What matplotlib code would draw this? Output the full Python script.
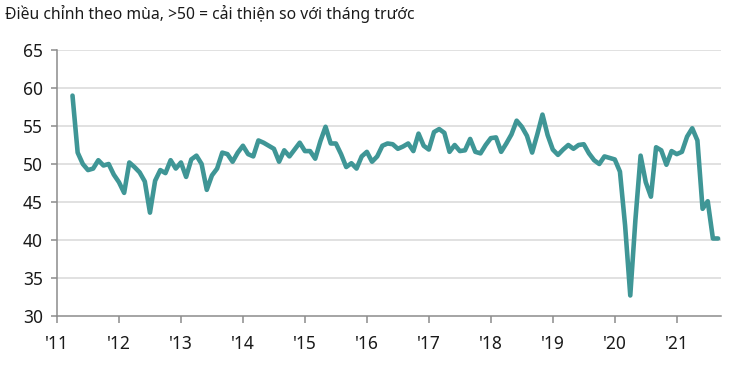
import numpy as np
import matplotlib.pyplot as plt

plt.rcParams['font.family'] = ['Noto Sans', 'DejaVu Sans']

# PMI, monthly, Apr 2011 - Sep 2021
pmi_2011 = [59.0, 51.5, 50.0, 49.2, 49.4, 50.5, 49.8, 50.0, 48.6]
pmi_2012 = [47.6, 46.2, 50.2, 49.6, 48.9, 47.7, 43.6, 47.8, 49.2, 48.8, 50.5, 49.4]
pmi_2013 = [50.2, 48.3, 50.6, 51.1, 50.0, 46.6, 48.5, 49.4, 51.5, 51.3, 50.3, 51.5]
pmi_2014 = [52.4, 51.3, 51.0, 53.1, 52.8, 52.4, 52.0, 50.3, 51.8, 51.0, 51.9, 52.8]
pmi_2015 = [51.7, 51.7, 50.7, 53.0, 54.9, 52.7, 52.7, 51.3, 49.6, 50.1, 49.4, 51.0]
pmi_2016 = [51.6, 50.3, 51.0, 52.4, 52.7, 52.6, 52.0, 52.3, 52.7, 51.7, 54.0, 52.4]
pmi_2017 = [51.9, 54.2, 54.6, 54.1, 51.6, 52.5, 51.7, 51.8, 53.3, 51.6, 51.4, 52.5]
pmi_2018 = [53.4, 53.5, 51.6, 52.7, 53.9, 55.7, 54.9, 53.7, 51.5, 53.9, 56.5, 53.8]
pmi_2019 = [51.9, 51.2, 51.9, 52.5, 52.0, 52.5, 52.6, 51.4, 50.5, 50.0, 51.0, 50.8]
pmi_2020 = [50.6, 49.0, 41.9, 32.7, 42.7, 51.1, 47.6, 45.7, 52.2, 51.8, 49.9, 51.7]
pmi_2021 = [51.3, 51.6, 53.6, 54.7, 53.1, 44.1, 45.1, 40.2, 40.2]

pmi = (pmi_2011 + pmi_2012 + pmi_2013 + pmi_2014 + pmi_2015 + pmi_2016
       + pmi_2017 + pmi_2018 + pmi_2019 + pmi_2020 + pmi_2021)
start_month = 3  # months after Jan 2011
x = 2011 + (start_month + np.arange(len(pmi))) / 12

years = list(range(2011, 2022))
year_labels = ["'" + str(y)[2:] for y in years]
y_ticks = [30, 35, 40, 45, 50, 55, 60, 65]

title = "Điều chỉnh theo mùa, >50 = cải thiện so với tháng trước"

fig = plt.figure(figsize=(7.5, 3.75), dpi=100)
ax = fig.add_axes([57/750, 1-316/375, (721-57)/750, (316-50)/375])

ax.plot(x, pmi, color='#3f9696', linewidth=3.3, solid_joinstyle='round',
        solid_capstyle='round', zorder=3)

ax.set_xlim(2011, 2021.714)
ax.set_ylim(30, 65)
ax.set_yticks(y_ticks)
ax.set_xticks(years)
ax.set_xticklabels(year_labels)

for v in y_ticks[1:]:
    ax.axhline(v, color='#d9d9d9', linewidth=1.1, zorder=1)

for s in ['top', 'right']:
    ax.spines[s].set_visible(False)
for s in ['left', 'bottom']:
    ax.spines[s].set_color('#8c8c8c')
    ax.spines[s].set_linewidth(1.1)

ax.tick_params(axis='y', length=4, width=1.1, color='#8c8c8c', pad=6,
               labelsize=12.5, labelcolor='#1a1a1a')
ax.tick_params(axis='x', length=5, width=1.1, color='#8c8c8c', pad=9,
               labelsize=12.5, labelcolor='#1a1a1a')

fig.text(5/750, 1-14/375, title, ha='left', va='center', fontsize=11.3,
         color='#1a1a1a')

fig.savefig('out.png', dpi=100)
